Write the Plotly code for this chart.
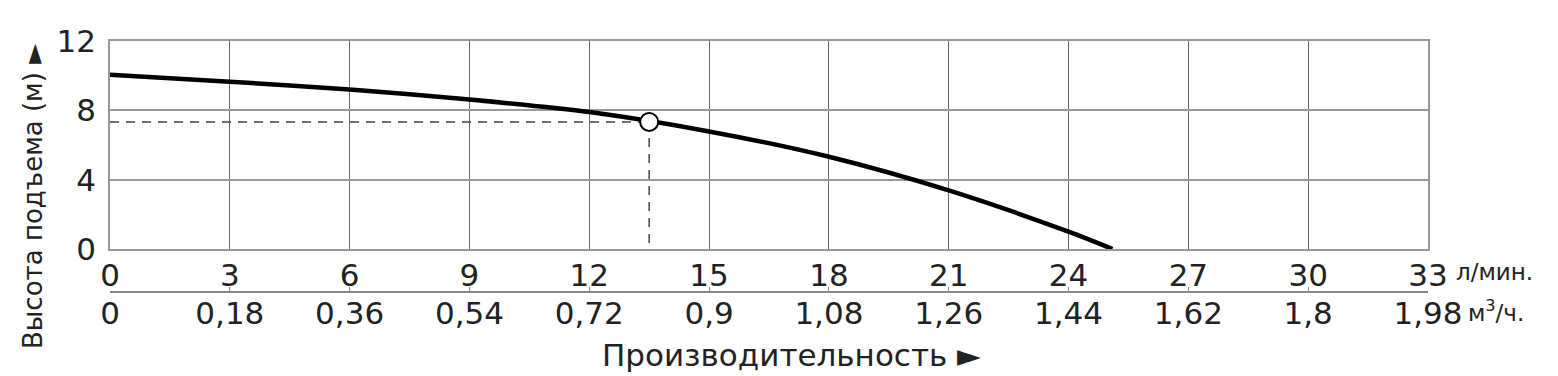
import plotly.graph_objects as go

# Data
flow_lpm = [0, 3, 6, 9, 12, 15, 18, 21, 24, 25.1]
head_m = [10.05, 9.65, 9.2, 8.62, 7.9, 6.78, 5.32, 3.38, 1.0, 0]
op_flow = 13.5
op_head = 7.33

x_ticks_lpm = [0, 3, 6, 9, 12, 15, 18, 21, 24, 27, 30, 33]
x_ticks_m3h = [0, 0.18, 0.36, 0.54, 0.72, 0.9, 1.08, 1.26, 1.44, 1.62, 1.8, 1.98]
x_ticks_m3h_text = ["0", "0,18", "0,36", "0,54", "0,72", "0,9", "1,08", "1,26", "1,44", "1,62", "1,8", "1,98"]
y_ticks = [0, 4, 8, 12]

FONT = "DejaVu Sans, Liberation Sans, Arial, sans-serif"
W, H = 1558, 376
L, R, T, B = 110, 130, 41, 84
ph = H - T - B
pw = W - L - R
y_dom0 = (292 - 249) / ph

fig = go.Figure()

# dashed guides
fig.add_trace(go.Scatter(x=[0, op_flow], y=[op_head, op_head], mode="lines",
                         line=dict(color="#444", width=1.5, dash="9px,7px"),
                         hoverinfo="skip", showlegend=False))
fig.add_trace(go.Scatter(x=[op_flow, op_flow], y=[op_head, 0], mode="lines",
                         line=dict(color="#444", width=1.5, dash="9px,7px"),
                         hoverinfo="skip", showlegend=False))
# pump curve
fig.add_trace(go.Scatter(x=flow_lpm, y=head_m, mode="lines",
                         line=dict(color="black", width=4.5, shape="spline", smoothing=0.8),
                         showlegend=False))
# operating point
fig.add_trace(go.Scatter(x=[op_flow], y=[op_head], mode="markers",
                         marker=dict(size=18, color="white", line=dict(color="black", width=2)),
                         showlegend=False))
# invisible trace on secondary flow axis (m3/h)
fig.add_trace(go.Scatter(x=[v * 0.06 for v in flow_lpm], y=head_m, mode="lines",
                         xaxis="x2", yaxis="y", line=dict(color="rgba(0,0,0,0)"),
                         hoverinfo="skip", showlegend=False))

fig.update_layout(
    width=W, height=H,
    margin=dict(l=L, r=R, t=T, b=B),
    paper_bgcolor="white", plot_bgcolor="white",
    font=dict(family=FONT, color="#222"),
    xaxis=dict(range=[0, 33], tickvals=x_ticks_lpm, ticktext=[str(v) for v in x_ticks_lpm],
               showgrid=True, gridcolor="#6a6a6a", gridwidth=1, zeroline=False,
               showline=True, linecolor="#999", linewidth=1.5, mirror=True,
               tickfont=dict(size=31, family=FONT, color="#222"), ticks="", anchor="y",
               ticklabelstandoff=-2),
    xaxis2=dict(range=[0, 1.98], tickvals=x_ticks_m3h, ticktext=x_ticks_m3h_text,
                overlaying="x", anchor="free", position=0, side="bottom",
                showgrid=False, zeroline=False, showline=True, linecolor="#888", linewidth=1.5,
                ticks="inside", ticklen=4, tickcolor="#888",
                tickfont=dict(size=31, family=FONT, color="#222"), ticklabelstandoff=-6),
    yaxis=dict(range=[0, 12], domain=[y_dom0, 1], tickvals=y_ticks,
               showgrid=True, gridcolor="#9a9a9a", gridwidth=1.5, zeroline=False,
               showline=True, linecolor="#999", linewidth=1.5, mirror=True,
               tickfont=dict(size=31, family=FONT, color="#222"), ticks="", ticklabelstandoff=6),
    annotations=[
        dict(text="Высота подъема (м) ►", textangle=-90, xref="paper", yref="paper",
             x=(33 - L) / pw, y=(292 - 197) / ph, xanchor="center", yanchor="middle",
             showarrow=False, font=dict(size=26, family=FONT, color="#222")),
        dict(text="Производительность ►", xref="paper", yref="paper",
             x=(791 - L) / pw, y=(292 - 355) / ph, xanchor="center", yanchor="middle",
             showarrow=False, font=dict(size=31, family=FONT, color="#222")),
        dict(text="л/мин.", xref="paper", yref="paper",
             x=(1454 - L) / pw, y=(292 - 272) / ph, xanchor="left", yanchor="middle",
             showarrow=False, font=dict(size=23, family=FONT, color="#222")),
        dict(text="м<sup>3</sup>/ч.", xref="paper", yref="paper",
             x=(1466 - L) / pw, y=(292 - 311) / ph, xanchor="left", yanchor="middle",
             showarrow=False, font=dict(size=23, family=FONT, color="#222")),
    ],
)

fig.write_html("out.html")
